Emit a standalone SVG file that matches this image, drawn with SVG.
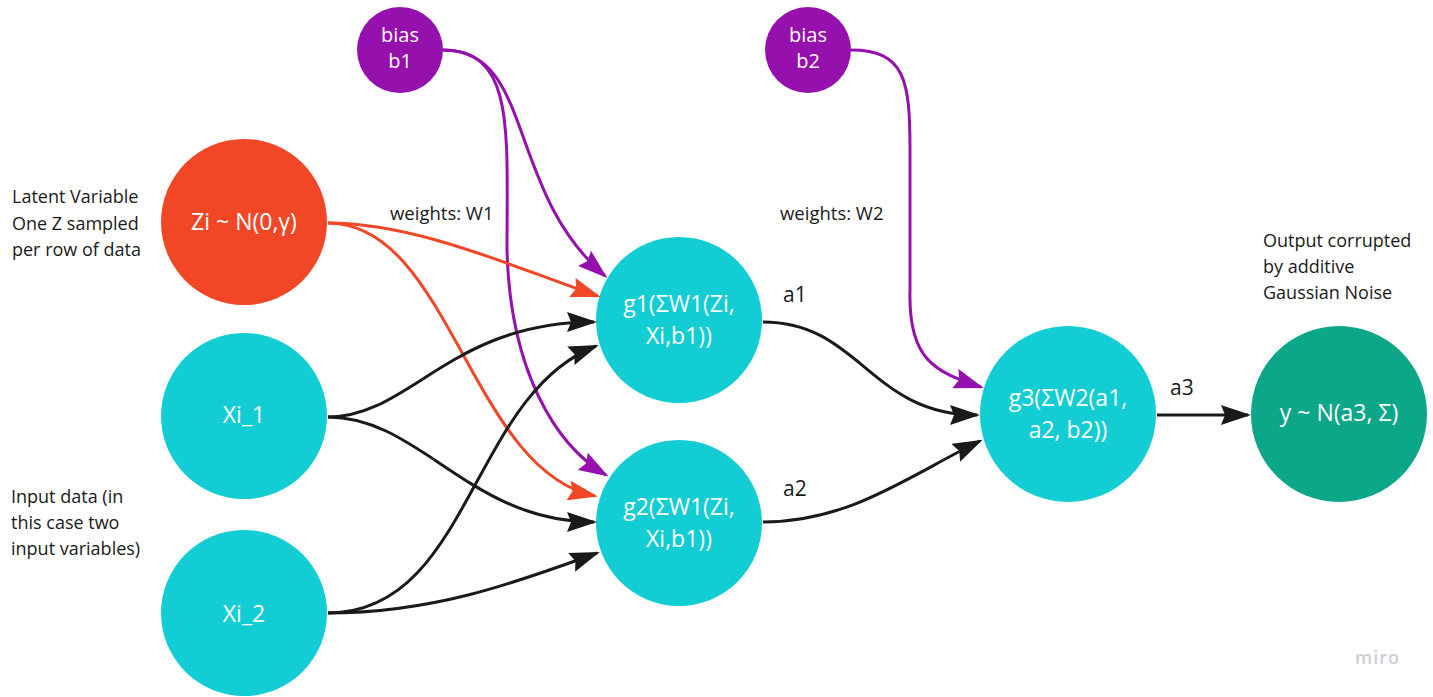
<svg xmlns="http://www.w3.org/2000/svg" width="1433" height="697" viewBox="0 0 1433 697">
<style>
.node-text{font-family:"Open Sans","Liberation Sans",sans-serif;font-size:23px;fill:#ffffff;text-anchor:middle}
.bias-text{font-family:"Open Sans","Liberation Sans",sans-serif;font-size:20px;fill:#ffffff;text-anchor:middle}
.note{font-family:"Open Sans","Liberation Sans",sans-serif;font-size:18px;fill:#1a1a1a}
.edge-label{font-family:"Open Sans","Liberation Sans",sans-serif;font-size:21px;fill:#1a1a1a}
.wlabel{font-family:"Open Sans","Liberation Sans",sans-serif;font-size:18.5px;fill:#1a1a1a}
.cyan{fill:#12cdd4}
.purple{fill:#9510ac}
.orange{fill:#f24726}
.teal{fill:#0ca789}
.c-black{fill:none;stroke:#1a1a1a;stroke-width:3}
.c-purple{fill:none;stroke:#9510ac;stroke-width:3}
.c-orange{fill:none;stroke:#f24726;stroke-width:3}
</style>
<defs>
<marker id="ah-black" markerUnits="userSpaceOnUse" viewBox="0 0 30 20" markerWidth="30" markerHeight="20" refX="27" refY="10" orient="auto"><path d="M0,0 L30,10 L0,20 L4,10 z" fill="#1a1a1a"/></marker>
<marker id="ah-purple" markerUnits="userSpaceOnUse" viewBox="0 0 30 20" markerWidth="30" markerHeight="20" refX="27" refY="10" orient="auto"><path d="M0,0 L30,10 L0,20 L4,10 z" fill="#9510ac"/></marker>
<marker id="ah-orange" markerUnits="userSpaceOnUse" viewBox="0 0 30 20" markerWidth="30" markerHeight="20" refX="27" refY="10" orient="auto"><path d="M0,0 L30,10 L0,20 L4,10 z" fill="#f24726"/></marker>
</defs>
<rect x="0" y="0" width="1433" height="697" fill="#ffffff"/>

<g id="notes">
<text class="note" x="12" y="203">Latent Variable</text>
<text class="note" x="12" y="229.5">One Z sampled</text>
<text class="note" x="12" y="256">per row of data</text>
<text class="note" x="11" y="503">Input data (in</text>
<text class="note" x="11" y="529">this case two</text>
<text class="note" x="11" y="555">input variables)</text>
<text class="note" x="1263" y="247">Output corrupted</text>
<text class="note" x="1263" y="273">by additive</text>
<text class="note" x="1263" y="299">Gaussian Noise</text>
<text class="wlabel" x="390" y="220">weights: W1</text>
<text class="wlabel" x="780" y="220">weights: W2</text>
<text x="1355" y="664" style="font-family:'Open Sans','Liberation Sans',sans-serif;font-size:18px;font-weight:600;fill:#cdcdd6;letter-spacing:1px">miro</text>
</g>

<g id="node-b1"><circle class="purple" cx="400" cy="50" r="43"/><text class="bias-text" x="400" y="42">bias</text><text class="bias-text" x="400" y="68">b1</text></g>
<g id="node-b2"><circle class="purple" cx="808" cy="50" r="43"/><text class="bias-text" x="808" y="42">bias</text><text class="bias-text" x="808" y="68">b2</text></g>
<g id="node-zi"><circle class="orange" cx="244" cy="222" r="83"/><text class="node-text" x="244" y="230">Zi ~ N(0,γ)</text></g>
<g id="node-xi1"><circle class="cyan" cx="244" cy="416" r="83"/><text class="node-text" x="244" y="423">Xi_1</text></g>
<g id="node-xi2"><circle class="cyan" cx="244" cy="613" r="83"/><text class="node-text" x="244" y="622">Xi_2</text></g>
<g id="node-g1"><circle class="cyan" cx="679" cy="320" r="83"/><text class="node-text" x="679" y="312">g1(ΣW1(Zi,</text><text class="node-text" x="679" y="344">Xi,b1))</text></g>
<g id="node-g2"><circle class="cyan" cx="679" cy="523" r="83"/><text class="node-text" x="679" y="515">g2(ΣW1(Zi,</text><text class="node-text" x="679" y="547">Xi,b1))</text></g>
<g id="node-g3"><circle class="cyan" cx="1068" cy="414" r="88"/><text class="node-text" x="1068" y="406">g3(ΣW2(a1,</text><text class="node-text" x="1068" y="438">a2, b2))</text></g>
<g id="node-y"><circle class="teal" cx="1339" cy="414" r="88"/><text class="node-text" x="1339" y="421">y ~ N(a3, Σ)</text></g>

<g id="connectors">
<path class="c-purple" marker-end="url(#ah-purple)" d="M443,50 C535,50 505,190 605,276"/>
<path class="c-purple" marker-end="url(#ah-purple)" d="M443,50 C515,50 507,130 507,250 C510,370 555,445 606,475"/>
<path class="c-purple" marker-end="url(#ah-purple)" d="M851,50 C905,50 910,80 910,150 L910,290 C908,360 935,372 981,387"/>
<path class="c-orange" marker-end="url(#ah-orange)" d="M328,223 C420,223 520,270 598,296"/>
<path class="c-orange" marker-end="url(#ah-orange)" d="M328,223 C450,223 470,470 595,496"/>
<path class="c-black" marker-end="url(#ah-black)" d="M328,417 C410,417 450,322 594,322"/>
<path class="c-black" marker-end="url(#ah-black)" d="M328,417 C420,417 470,522 594,522"/>
<path class="c-black" marker-end="url(#ah-black)" d="M328,613 C470,613 470,395 596,346"/>
<path class="c-black" marker-end="url(#ah-black)" d="M328,613 C430,613 510,585 597,553"/>
<path class="c-black" marker-end="url(#ah-black)" d="M763,322 C860,322 870,415 977,415"/>
<path class="c-black" marker-end="url(#ah-black)" d="M763,522 C850,522 910,475 980,441"/>
<path class="c-black" marker-end="url(#ah-black)" d="M1157,415 L1248,415"/>
</g>

<g id="edge-labels">
<text class="edge-label" x="783" y="302">a1</text>
<text class="edge-label" x="783" y="496">a2</text>
<text class="edge-label" x="1170" y="395">a3</text>
</g>
</svg>
